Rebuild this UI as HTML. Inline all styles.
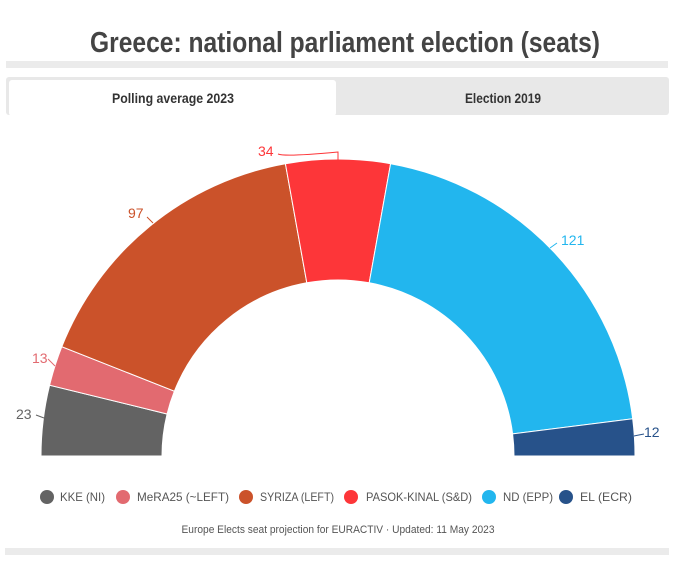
<!DOCTYPE html>
<html><head><meta charset="utf-8"><style>
html,body{margin:0;padding:0;background:#fff;width:694px;height:570px;overflow:hidden}
svg{display:block;font-family:"Liberation Sans",sans-serif}
</style></head><body>
<svg width="694" height="570" viewBox="0 0 694 570">
<text x="345" y="52" text-anchor="middle" font-size="29" font-weight="bold" fill="#444" textLength="510" lengthAdjust="spacingAndGlyphs">Greece: national parliament election (seats)</text>
<rect x="6" y="61" width="662" height="7" fill="#ebebeb"/>
<rect x="6" y="77" width="663" height="38" rx="3" fill="#e8e8e8"/>
<rect x="9" y="80" width="327" height="36" rx="3" fill="#fff"/>
<text x="173" y="103" text-anchor="middle" font-size="14" font-weight="bold" fill="#333" textLength="122" lengthAdjust="spacingAndGlyphs">Polling average 2023</text>
<text x="503" y="103" text-anchor="middle" font-size="14" font-weight="bold" fill="#333" textLength="76" lengthAdjust="spacingAndGlyphs">Election 2019</text>
<g stroke="#fff" stroke-width="1">
<path d="M41,456 A297,297 0 0 1 49.6,385.2 L167.1,414 A176,176 0 0 0 162,456Z" fill="#636363"/>
<path d="M49.6,385.2 A297,297 0 0 1 61.8,346.7 L174.4,391.2 A176,176 0 0 0 167.1,414Z" fill="#e26a70"/>
<path d="M61.8,346.7 A297,297 0 0 1 285.4,163.7 L306.8,282.8 A176,176 0 0 0 174.4,391.2Z" fill="#cb522a"/>
<path d="M285.4,163.7 A297,297 0 0 1 390.6,163.7 L369.2,282.8 A176,176 0 0 0 306.8,282.8Z" fill="#fd3639"/>
<path d="M390.6,163.7 A297,297 0 0 1 632.7,418.8 L512.6,433.9 A176,176 0 0 0 369.2,282.8Z" fill="#22b6ee"/>
<path d="M632.7,418.8 A297,297 0 0 1 635,456 L514,456 A176,176 0 0 0 512.6,433.9Z" fill="#27528a"/>
</g>
<g font-size="14" fill="none" stroke-width="1">
<path d="M36,415 L44,418" stroke="#636363"/>
<path d="M48,359 L55,366" stroke="#e26a70"/>
<path d="M147,217 L153,223" stroke="#cb522a"/>
<path d="M278,154 Q285,157 338,152 L338,160" stroke="#fd3639"/>
<path d="M557,243 L550,248" stroke="#22b6ee"/>
<path d="M634,436 L644,434" stroke="#27528a"/>
</g>
<g font-size="14">
<text x="16" y="419" fill="#636363">23</text>
<text x="32" y="363" fill="#e26a70">13</text>
<text x="128" y="218" fill="#cb522a">97</text>
<text x="258" y="156" fill="#fd3639">34</text>
<text x="561" y="245" fill="#22b6ee">121</text>
<text x="644" y="437" fill="#27528a">12</text>
</g>
<g font-size="12" fill="#555">
<circle cx="47" cy="497" r="7" fill="#636363"/><text x="60" y="501" textLength="45" lengthAdjust="spacingAndGlyphs">KKE (NI)</text>
<circle cx="123" cy="497" r="7" fill="#e26a70"/><text x="137" y="501" textLength="92" lengthAdjust="spacingAndGlyphs">MeRA25 (~LEFT)</text>
<circle cx="246" cy="497" r="7" fill="#cb522a"/><text x="260" y="501" textLength="74" lengthAdjust="spacingAndGlyphs">SYRIZA (LEFT)</text>
<circle cx="351" cy="497" r="7" fill="#fd3639"/><text x="366" y="501" textLength="106" lengthAdjust="spacingAndGlyphs">PASOK-KINAL (S&amp;D)</text>
<circle cx="489" cy="497" r="7" fill="#22b6ee"/><text x="503" y="501" textLength="50" lengthAdjust="spacingAndGlyphs">ND (EPP)</text>
<circle cx="566" cy="497" r="7" fill="#27528a"/><text x="580" y="501" textLength="52" lengthAdjust="spacingAndGlyphs">EL (ECR)</text>
</g>
<text x="338" y="533" text-anchor="middle" font-size="11" fill="#555" textLength="313" lengthAdjust="spacingAndGlyphs">Europe Elects seat projection for EURACTIV · Updated: 11 May 2023</text>
<rect x="5" y="548" width="664" height="7" fill="#ebebeb"/>
</svg>
</body></html>
